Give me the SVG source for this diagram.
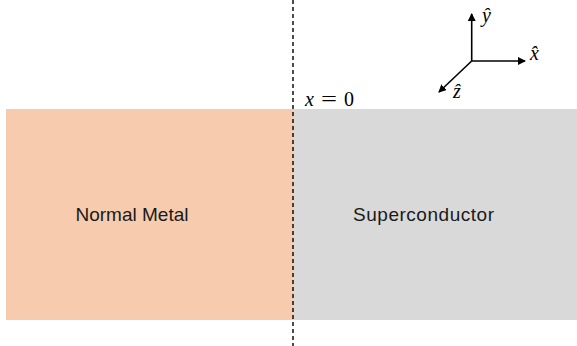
<svg xmlns="http://www.w3.org/2000/svg" width="577" height="346" viewBox="0 0 577 346">
<defs>
<marker id="ah" markerWidth="8" markerHeight="8" refX="7" refY="4" orient="auto" markerUnits="userSpaceOnUse">
<path d="M0,0 L8,4 L0,8 Z" fill="#000"/>
</marker>
<style>
.lbl{font-family:"Liberation Sans",Arial,sans-serif;font-size:19px;fill:#1a1a1a;text-anchor:middle}
.math{font-family:"Liberation Serif","Times New Roman",serif;font-size:20px;fill:#000}
.ax{stroke:#000;stroke-width:1.6;fill:none}
</style>
</defs>
<rect width="577" height="346" fill="#fff"/>
<g id="normal-metal">
<rect x="6" y="109" width="287" height="211" fill="#f7cbad"/>
<text class="lbl" x="132" y="221">Normal Metal</text>
</g>
<g id="superconductor">
<rect x="293" y="109" width="284" height="211" fill="#d9d9d9"/>
<text class="lbl" x="423.5" y="221" textLength="141">Superconductor</text>
</g>
<g id="interface">
<line x1="293" y1="0" x2="293" y2="346" stroke="#000" stroke-width="1.4" stroke-dasharray="4,3"/>
<text class="math" y="106"><tspan x="305" font-style="italic">x</tspan><tspan x="321" textLength="16" lengthAdjust="spacingAndGlyphs">=</tspan><tspan x="344">0</tspan></text>
</g>
<g id="axes">
<line class="ax" x1="471.7" y1="61" x2="471.7" y2="14" marker-end="url(#ah)"/>
<line class="ax" x1="471.7" y1="61" x2="525" y2="61" marker-end="url(#ah)"/>
<line class="ax" x1="471.7" y1="61" x2="439" y2="92" marker-end="url(#ah)"/>
<text class="math" x="482" y="22" font-style="italic">ŷ</text>
<text class="math" x="530" y="60" font-style="italic">x̂</text>
<text class="math" x="453" y="98" font-style="italic">ẑ</text>
</g>
</svg>
